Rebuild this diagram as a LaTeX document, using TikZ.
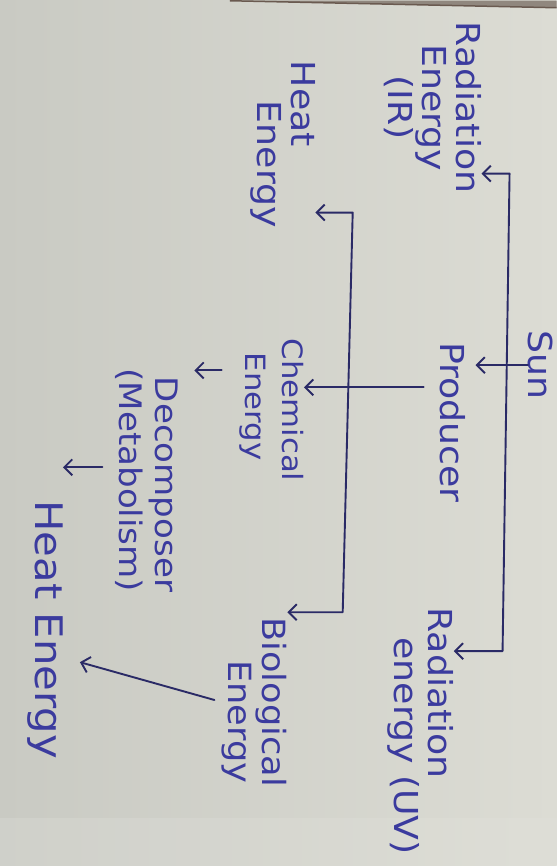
\documentclass[tikz,border=0pt]{standalone}
\usepackage{fontspec}
\newfontfamily\hand{DejaVu Sans}[FakeStretch=1.1]
\usetikzlibrary{arrows.meta}
\definecolor{paperL}{HTML}{C9CAC3}
\definecolor{paperR}{HTML}{DCDCD4}
\definecolor{ink}{HTML}{3B3B9E}
\definecolor{pen}{HTML}{2A2A66}
\definecolor{edge}{HTML}{6A5A50}
\begin{document}
\begin{tikzpicture}[x=1pt,y=-1pt,
  >={Straight Barb[length=8pt,width=16pt]},
  lbl/.style={rotate=-90, inner sep=0pt, text=ink, font=\hand\fontsize{33}{34}\selectfont},
  conn/.style={draw=pen, line width=1.9pt, line cap=round, line join=round},
  arr/.style={conn, ->},
  barr/.style={conn, <->}]
\shade[left color=paperL, right color=paperR] (0,0) rectangle (557,866);
\shade[left color=paperL!80!white, right color=paperR!90!white, opacity=0.6] (0,818) rectangle (557,866);
\fill[edge!60!paperL] (230,0) -- (557,0) -- (557,7) -- cycle;
\draw[edge, line width=1.5pt] (230,0) -- (557,7);
\useasboundingbox (0,0) rectangle (557,866);

% labels
\node[lbl, anchor=west] (sun) at (541,330) {Sun};
\node[lbl, align=center] (ir) at (433,107) {Radiation\\Energy\\(IR)};
\node[lbl] (prod) at (453,422) {Producer};
\node[lbl, align=left, anchor=west] (uv) at (421,607) {Radiation\\\hspace*{30pt}energy (UV)};
\node[lbl, align=left, anchor=west] (heat1) at (283,60) {Heat\\\hspace*{40pt}Energy};
\node[lbl, align=left, anchor=west, font=\hand\fontsize{28}{37}\selectfont] (chem) at (272,338) {Chemical\\\hspace*{14pt}Energy};
\node[lbl, align=right, anchor=east, font=\hand\fontsize{31}{36}\selectfont] (dec) at (147,592) {Decomposer\\(Metabolism)};
\node[lbl, anchor=west, font=\hand\fontsize{38}{40}\selectfont] (heat2) at (45,500) {Heat Energy};
\node[lbl, align=left, anchor=west, font=\hand\fontsize{32}{34}\selectfont] (bio) at (255,617) {Biological\\\hspace*{43pt}Energy};

% bar corners and free ends
\coordinate (b1t) at (510,173);
\coordinate (b1b) at (503,651);
\coordinate (b2t) at (353,212);
\coordinate (b2b) at (343,612);
\coordinate (pc) at (423,387);
\coordinate (cd) at (222,370);
\coordinate (dh) at (100,467);
\coordinate (hb) at (80,662);

% connectors
\draw[barr] (ir.north |- b1t) -- (b1t) -- (b1b) -- (uv.north |- b1b);
\draw[arr, shorten >=10pt] (sun.south) -- (prod.north |- sun.south);
\draw[arr, shorten <=16pt] (prod.south |- pc) -- (chem.north |- pc);
\draw[barr] (heat1.north |- b2t) -- (b2t) -- (b2b) -- (bio.north |- b2b);
\draw[arr, shorten <=18pt, shorten >=16pt] (chem.south |- cd) -- (dec.north |- cd);
\draw[arr, shorten <=13pt] (dec.south |- dh) -- (heat2.north |- dh);
\draw[arr, shorten <=8pt] (bio.south) -- (hb);
\end{tikzpicture}
\end{document}
